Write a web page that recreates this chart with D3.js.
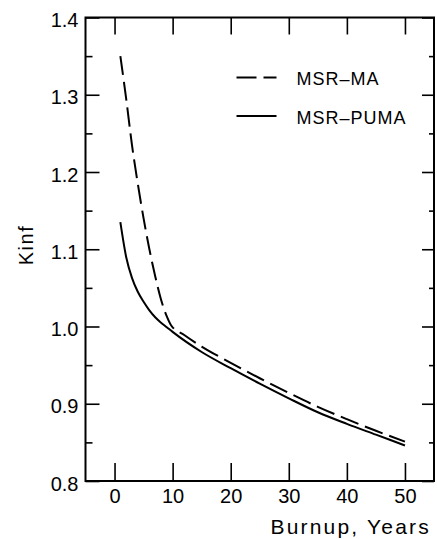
<!DOCTYPE html>
<html>
<head>
<meta charset="utf-8">
<script src="https://cdn.jsdelivr.net/npm/d3@7"></script>
<style>
  body { margin: 0; background: #fff; }
  text { font-family: "Liberation Sans", Arial, Helvetica, sans-serif; fill: #000; }
</style>
</head>
<body>
<svg id="chart" width="437" height="539"></svg>
<script>
// burnup (years) and kinf
var maBurnup   = [1, 2, 3, 4, 5, 6, 7, 8, 9, 9.7, 12, 15, 20, 25, 30, 35, 40, 45, 50];
var maKinf     = [1.35, 1.295, 1.235, 1.185, 1.14, 1.10, 1.065, 1.035, 1.013, 1.002,
                  0.989, 0.974, 0.953, 0.933, 0.914, 0.896, 0.880, 0.865, 0.851];
var pumaBurnup = [1, 2, 3, 4, 5, 6, 7, 8, 9, 10, 15, 20, 25, 30, 35, 40, 45, 50];
var pumaKinf   = [1.135, 1.09, 1.063, 1.045, 1.032, 1.021, 1.012, 1.005, 0.999, 0.993,
                  0.967, 0.946, 0.926, 0.907, 0.889, 0.874, 0.860, 0.846];
var xTicks = [0, 10, 20, 30, 40, 50];
var yTicks = [0.8, 0.9, 1.0, 1.1, 1.2, 1.3, 1.4];
var yMinorTicks = [0.85, 0.95, 1.05, 1.15, 1.25, 1.35];
var legendNames = ["MSR\u2013MA", "MSR\u2013PUMA"];

var svg = d3.select("#chart");
var margin = {top: 17.5, right: 3, bottom: 58, left: 85.5};
var width = 437 - margin.left - margin.right;
var height = 539 - margin.top - margin.bottom;

var g = svg.append("g").attr("transform", "translate(" + margin.left + "," + margin.top + ")");

var x = d3.scaleLinear().domain([-5, 55]).range([0, width]);
var y = d3.scaleLinear().domain([0.8, 1.4]).range([height, 0]);

function styleAxis(sel){
  sel.select(".domain").remove();
  sel.selectAll("line").attr("stroke", "#000").attr("stroke-width", 1.6);
}

// bottom / top x ticks (inward)
g.append("g")
  .attr("transform", "translate(0," + height + ")")
  .call(d3.axisBottom(x).tickValues(xTicks).tickSize(-18).tickPadding(8).tickFormat(d3.format("d")))
  .call(styleAxis)
  .selectAll("text").style("font-size", "20px");

g.append("g")
  .call(d3.axisTop(x).tickValues(xTicks).tickSize(-17).tickFormat(""))
  .call(styleAxis);

// left y axis, major + minor
g.append("g")
  .call(d3.axisLeft(y).tickValues(yTicks).tickSize(-14).tickPadding(7).tickFormat(d3.format(".1f")))
  .call(styleAxis)
  .selectAll("text").style("font-size", "20px").attr("dy", "0.45em");

g.append("g")
  .call(d3.axisLeft(y).tickValues(yMinorTicks).tickSize(-7).tickFormat(""))
  .call(styleAxis);

// right y axis
g.append("g")
  .attr("transform", "translate(" + width + ",0)")
  .call(d3.axisRight(y).tickValues(yTicks).tickSize(-12).tickFormat(""))
  .call(styleAxis);

g.append("g")
  .attr("transform", "translate(" + width + ",0)")
  .call(d3.axisRight(y).tickValues(yMinorTicks).tickSize(-5).tickFormat(""))
  .call(styleAxis);

// frame
g.append("rect")
  .attr("width", width).attr("height", height)
  .attr("fill", "none").attr("stroke", "#000").attr("stroke-width", 2);

var line = d3.line()
  .x(function(d){ return x(d[0]); })
  .y(function(d){ return y(d[1]); })
  .curve(d3.curveMonotoneX);

g.append("path")
  .datum(d3.zip(maBurnup, maKinf))
  .attr("d", line)
  .attr("fill", "none").attr("stroke", "#000").attr("stroke-width", 2)
  .attr("stroke-dasharray", "19,7");

g.append("path")
  .datum(d3.zip(pumaBurnup, pumaKinf))
  .attr("d", line)
  .attr("fill", "none").attr("stroke", "#000").attr("stroke-width", 2);

// legend
var legend = g.append("g").attr("transform", "translate(151,60)");
legendNames.forEach(function(name, i){
  var row = legend.append("g").attr("transform", "translate(0," + (i * 38.5) + ")");
  row.append("line")
    .attr("x1", 0).attr("x2", 40)
    .attr("stroke", "#000").attr("stroke-width", 2)
    .attr("stroke-dasharray", i === 0 ? "20,7,13" : null);
  row.append("text")
    .attr("x", 60).attr("y", 7.5)
    .style("font-size", "18px").style("letter-spacing", "1px")
    .text(name);
});

// axis titles
svg.append("text")
  .attr("x", 431).attr("y", 534)
  .attr("text-anchor", "end")
  .style("font-size", "21px").style("letter-spacing", "2.2px")
  .text("Burnup, Years");

svg.append("text")
  .attr("transform", "translate(33,245) rotate(-90)")
  .attr("text-anchor", "middle")
  .style("font-size", "20px").style("letter-spacing", "1.5px")
  .text("Kinf");
</script>
</body>
</html>
